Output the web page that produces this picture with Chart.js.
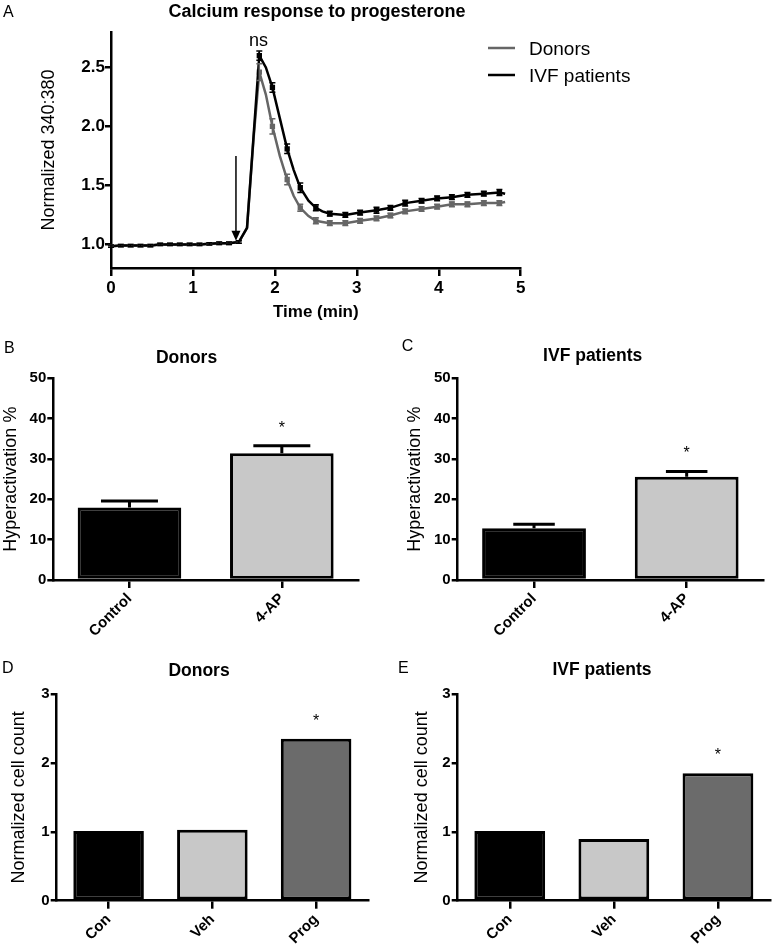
<!DOCTYPE html>
<html>
<head>
<meta charset="utf-8">
<script src="https://cdn.jsdelivr.net/npm/chart.js@4.4.1/dist/chart.umd.min.js"></script>
<style>
body { margin: 0; background: #fff; }
#wrap { position: relative; width: 773px; height: 950px; }
canvas { position: absolute; }
</style>
</head>
<body>
<div id="wrap">
    <canvas id="chartA" width="773" height="330" style="left:0;top:0"></canvas>
    <canvas id="chartB" width="380" height="320" style="left:0;top:330px"></canvas>
    <canvas id="chartC" width="393" height="320" style="left:380px;top:330px"></canvas>
    <canvas id="chartD" width="380" height="330" style="left:0;top:620px"></canvas>
    <canvas id="chartE" width="393" height="330" style="left:380px;top:620px"></canvas>
</div>
<script>
// panel A - calcium trace (normalized 340:380 ratio)
var timeMin = [0, 0.12, 0.24, 0.36, 0.48, 0.60, 0.72, 0.84, 0.96, 1.08, 1.20, 1.32, 1.44, 1.56,
    1.66, 1.74, 1.81, 1.89, 1.97, 2.06, 2.15, 2.23, 2.31, 2.41, 2.50, 2.58, 2.67, 2.86,
    3.04, 3.24, 3.41, 3.59, 3.79, 3.98, 4.16, 4.35, 4.55, 4.74, 4.81];
var donorsRatio = [0.985, 0.99, 0.99, 0.99, 0.99, 1.0, 1.0, 1.0, 1.0, 1.0, 1.005, 1.01, 1.01, 1.02,
    1.14, 1.90, 2.46, 2.27, 2.00, 1.75, 1.55, 1.41, 1.31, 1.24, 1.20, 1.19, 1.18, 1.18,
    1.20, 1.22, 1.245, 1.28, 1.30, 1.32, 1.34, 1.34, 1.35, 1.35, 1.36];
var donorsSem = [0.01, 0.01, 0.01, 0.01, 0.01, 0.01, 0.01, 0.01, 0.01, 0.01, 0.01, 0.01, 0.01, 0.01,
    0, 0, 0.07, 0, 0.065, 0, 0.045, 0, 0.03, 0, 0.025, 0, 0.02, 0.02,
    0.02, 0.02, 0.02, 0.02, 0.02, 0.02, 0.02, 0.02, 0.02, 0.02, 0];
var ivfRatio = [0.985, 0.99, 0.99, 0.99, 0.99, 1.0, 1.0, 1.0, 1.0, 1.0, 1.005, 1.01, 1.01, 1.02,
    1.14, 1.92, 2.60, 2.50, 2.33, 2.07, 1.81, 1.63, 1.48, 1.37, 1.31, 1.28, 1.26, 1.25,
    1.27, 1.29, 1.31, 1.35, 1.37, 1.39, 1.40, 1.42, 1.43, 1.44, 1.43];
var ivfSem = [0.01, 0.01, 0.01, 0.01, 0.01, 0.01, 0.01, 0.01, 0.01, 0.01, 0.01, 0.01, 0.01, 0.01,
    0, 0, 0.04, 0, 0.04, 0, 0.04, 0, 0.04, 0, 0.025, 0, 0.02, 0.02,
    0.02, 0.025, 0.02, 0.025, 0.02, 0.02, 0.02, 0.02, 0.02, 0.025, 0];
var ratioTicks = [1.0, 1.5, 2.0, 2.5];
var seriesNames = ["Donors", "IVF patients"];

// progesterone added (arrow) and peak comparison label
var arrowTime = 1.525, arrowFrom = 1.75, arrowTo = 1.03;
var peakTime = 1.8, peakLabelLevel = 2.72, peakLabel = "ns";

// panels B, C - hyperactivation %
var hyperCats = ["Control", "4-AP"];
var hyperDonors = [18.0, 31.4];
var hyperDonorsSem = [1.6, 1.9];
var hyperIvf = [12.8, 25.6];
var hyperIvfSem = [1.0, 1.3];
var hyperSig = ["", "*"];

// panels D, E - normalized cell count
var countCats = ["Con", "Veh", "Prog"];
var countDonors = [1.01, 1.03, 2.35];
var countIvf = [1.01, 0.895, 1.85];
var countSig = ["", "", "*"];

var FONT = "'Liberation Sans', Arial, Helvetica, sans-serif";
Chart.defaults.font.family = FONT;
Chart.defaults.color = "#000";

var panelText = {
    id: "panelText",
    afterDraw: function(chart, args, opts) {
        var ctx = chart.ctx;
        ctx.save();
        ctx.fillStyle = "#000";
        ctx.textBaseline = "alphabetic";
        ctx.textAlign = "left";
        ctx.font = "16px " + FONT;
        ctx.fillText(opts.letter, opts.letterX, opts.letterY);
        ctx.textAlign = "center";
        ctx.font = "bold " + opts.titleSize + "px " + FONT;
        ctx.fillText(opts.title, opts.titleX, opts.titleY);
        ctx.restore();
    }
};

var barErrors = {
    id: "barErrors",
    afterDatasetsDraw: function(chart, args, opts) {
        var ctx = chart.ctx;
        var ys = chart.scales.y;
        var ds = chart.data.datasets[0];
        var meta = chart.getDatasetMeta(0);
        ctx.save();
        meta.data.forEach(function(bar, i) {
            var top = bar.y;
            if (ds.sem && ds.sem[i]) {
                var yTop = ys.getPixelForValue(ds.data[i] + ds.sem[i]);
                var half = bar.width * opts.cap / 2;
                ctx.strokeStyle = "#000";
                ctx.lineWidth = 3;
                ctx.beginPath();
                ctx.moveTo(bar.x, top);
                ctx.lineTo(bar.x, yTop);
                ctx.moveTo(bar.x - half, yTop);
                ctx.lineTo(bar.x + half, yTop);
                ctx.stroke();
                top = yTop;
            }
            if (ds.sig && ds.sig[i]) {
                ctx.fillStyle = "#000";
                ctx.font = "16px " + FONT;
                ctx.textAlign = "center";
                ctx.fillText(ds.sig[i], bar.x, top - 13);
            }
        });
        ctx.restore();
    }
};

var lineErrors = {
    id: "lineErrors",
    afterDatasetsDraw: function(chart) {
        var ctx = chart.ctx;
        var ys = chart.scales.y;
        chart.data.datasets.forEach(function(ds, d) {
            var meta = chart.getDatasetMeta(d);
            ctx.save();
            ctx.strokeStyle = ds.borderColor;
            ctx.lineWidth = 1.5;
            meta.data.forEach(function(pt, i) {
                var e = ds.sem[i];
                if (!e) return;
                var v = ds.data[i].y;
                var y1 = ys.getPixelForValue(v - e);
                var y2 = ys.getPixelForValue(v + e);
                ctx.beginPath();
                ctx.moveTo(pt.x, y1);
                ctx.lineTo(pt.x, y2);
                ctx.moveTo(pt.x - 3, y1);
                ctx.lineTo(pt.x + 3, y1);
                ctx.moveTo(pt.x - 3, y2);
                ctx.lineTo(pt.x + 3, y2);
                ctx.stroke();
            });
            ctx.restore();
        });
    }
};

var calciumExtras = {
    id: "calciumExtras",
    afterDraw: function(chart, args, opts) {
        var ctx = chart.ctx;
        var xs = chart.scales.x, ys = chart.scales.y;
        ctx.save();
        // arrow
        var ax = xs.getPixelForValue(arrowTime);
        var a1 = ys.getPixelForValue(arrowFrom);
        var a2 = ys.getPixelForValue(arrowTo);
        ctx.strokeStyle = "#000";
        ctx.fillStyle = "#000";
        ctx.lineWidth = 1.5;
        ctx.beginPath();
        ctx.moveTo(ax, a1);
        ctx.lineTo(ax, a2 - 8);
        ctx.stroke();
        ctx.beginPath();
        ctx.moveTo(ax - 4.5, a2 - 10);
        ctx.lineTo(ax + 4.5, a2 - 10);
        ctx.lineTo(ax, a2);
        ctx.closePath();
        ctx.fill();
        // ns
        ctx.font = "18px " + FONT;
        ctx.textAlign = "center";
        ctx.textBaseline = "alphabetic";
        ctx.fillText(peakLabel, xs.getPixelForValue(peakTime), ys.getPixelForValue(peakLabelLevel) + 5);
        // legend
        ctx.textAlign = "left";
        ctx.font = "19px " + FONT;
        chart.data.datasets.forEach(function(ds, i) {
            var y = opts.legendY + i * 27;
            ctx.strokeStyle = ds.borderColor;
            ctx.lineWidth = 2.5;
            ctx.beginPath();
            ctx.moveTo(opts.legendX, y);
            ctx.lineTo(opts.legendX + 27, y);
            ctx.stroke();
            ctx.fillStyle = "#000";
            ctx.fillText(ds.label, opts.legendX + 41, y + 7);
        });
        ctx.restore();
    }
};

function toPoints(values) {
    return values.map(function(v, i) { return {x: timeMin[i], y: v}; });
}

function axisGrid(tickLength) {
    return {drawOnChartArea: false, drawTicks: true, tickLength: tickLength, color: "#000", lineWidth: 2.5};
}

function createCalciumChart(canvas) {
    var donors = {
        label: seriesNames[0],
        data: toPoints(donorsRatio),
        sem: donorsSem,
        borderColor: "#666666",
        backgroundColor: "#666666",
        borderWidth: 2.5,
        pointStyle: "rect",
        pointRadius: donorsSem.map(function(e) { return e > 0.015 ? 2 : 0; }),
        tension: 0,
        order: 1
    };
    var ivf = {
        label: seriesNames[1],
        data: toPoints(ivfRatio),
        sem: ivfSem,
        borderColor: "#000000",
        backgroundColor: "#000000",
        borderWidth: 2.5,
        pointStyle: "rect",
        pointRadius: ivfSem.map(function(e) { return e > 0.015 ? 2 : 0; }),
        tension: 0,
        order: 0
    };
    return new Chart(canvas, {
        type: "line",
        data: {datasets: [donors, ivf]},
        plugins: [lineErrors, calciumExtras, panelText],
        options: {
            responsive: false,
            animation: false,
            layout: {padding: {left: 0, right: 252.3, top: 32, bottom: 7.8}},
            plugins: {
                legend: {display: false},
                tooltip: {enabled: false},
                calciumExtras: {legendX: 488, legendY: 48},
                panelText: {letter: "A", letterX: 3, letterY: 16.5,
                    title: "Calcium response to progesterone", titleSize: 18, titleX: 317, titleY: 17}
            },
            scales: {
                x: {
                    type: "linear", min: 0, max: 5,
                    ticks: {stepSize: 1, padding: 2, font: {size: 17, weight: "bold"}},
                    grid: axisGrid(8),
                    border: {color: "#000", width: 2.5},
                    title: {display: true, text: "Time (min)", padding: 0, font: {size: 17, weight: "bold"}},
                    afterFit: function(s) { s.height = 54.2; }
                },
                y: {
                    min: 0.8, max: 2.8,
                    afterBuildTicks: function(s) {
                        s.ticks = ratioTicks.map(function(v) { return {value: v}; });
                    },
                    ticks: {padding: 0, font: {size: 17, weight: "bold"},
                        callback: function(v) { return Number(v).toFixed(1); }},
                    grid: axisGrid(6),
                    border: {color: "#000", width: 2.5},
                    title: {display: true, text: "Normalized 340:380", padding: {top: 38.2, bottom: 0}, font: {size: 18}},
                    afterFit: function(s) { s.width = 111; }
                }
            }
        }
    });
}

function createBarChart(canvas, cats, values, sem, sig, colors, yMax, yStep, yLabel, box) {
    return new Chart(canvas, {
        type: "bar",
        data: {
            labels: cats,
            datasets: [{
                data: values,
                sem: sem,
                sig: sig,
                backgroundColor: colors,
                borderColor: "#000",
                borderWidth: 3,
                borderSkipped: false,
                barPercentage: 0.68,
                categoryPercentage: 1
            }]
        },
        plugins: [barErrors, panelText],
        options: {
            responsive: false,
            animation: false,
            layout: {padding: {left: box.padLeft, right: box.padRight, top: box.padTop, bottom: 0}},
            plugins: {
                legend: {display: false},
                tooltip: {enabled: false},
                barErrors: {cap: box.cap || 0.5},
                panelText: {letter: box.letter, letterX: box.letterX, letterY: box.letterY,
                    title: box.title, titleSize: 17.5, titleX: box.titleX, titleY: box.titleY}
            },
            scales: {
                x: {
                    ticks: {minRotation: 45, maxRotation: 45, autoSkip: false, padding: 2,
                        font: {size: 15, weight: "bold"}},
                    grid: Object.assign(axisGrid(8), {offset: false}),
                    border: {color: "#000", width: 2.5},
                    afterFit: function(s) { s.height = box.xHeight; }
                },
                y: {
                    min: 0, max: yMax,
                    ticks: {stepSize: yStep, padding: 1, font: {size: 15, weight: "bold"}},
                    grid: axisGrid(6),
                    border: {color: "#000", width: 2.5},
                    title: {display: true, text: yLabel, padding: 0, font: {size: 18}},
                    afterFit: function(s) { s.width = box.yWidth; }
                }
            }
        }
    });
}

var black = "#000000", light = "#c8c8c8", dark = "#6b6b6b";

createCalciumChart(document.getElementById("chartA"));

createBarChart(document.getElementById("chartB"), hyperCats, hyperDonors, hyperDonorsSem, hyperSig,
    [black, light], 50, 10, "Hyperactivation %",
    {padLeft: 0, padRight: 22, padTop: 48.3, yWidth: 53.3, xHeight: 70, cap: 0.55,
     letter: "B", letterX: 4, letterY: 23.2, title: "Donors", titleX: 186.5, titleY: 32.8});

createBarChart(document.getElementById("chartC"), hyperCats, hyperIvf, hyperIvfSem, hyperSig,
    [black, light], 50, 10, "Hyperactivation %",
    {padLeft: 24.5, padRight: 10, padTop: 48.3, yWidth: 53.2, xHeight: 70, cap: 0.4,
     letter: "C", letterX: 21.7, letterY: 21, title: "IVF patients", titleX: 212.7, titleY: 31.3});

createBarChart(document.getElementById("chartD"), countCats, countDonors, null, countSig,
    [black, light, dark], 3, 1, "Normalized cell count",
    {padLeft: 8.5, padRight: 12, padTop: 74, yWidth: 48.2, xHeight: 49.3,
     letter: "D", letterX: 2, letterY: 53.2, title: "Donors", titleX: 199, titleY: 55.8});

createBarChart(document.getElementById("chartE"), countCats, countIvf, null, countSig,
    [black, light, dark], 3, 1, "Normalized cell count",
    {padLeft: 31.2, padRight: 3, padTop: 74, yWidth: 46.5, xHeight: 49.3,
     letter: "E", letterX: 18, letterY: 53.2, title: "IVF patients", titleX: 222, titleY: 55.3});
</script>
</body>
</html>
